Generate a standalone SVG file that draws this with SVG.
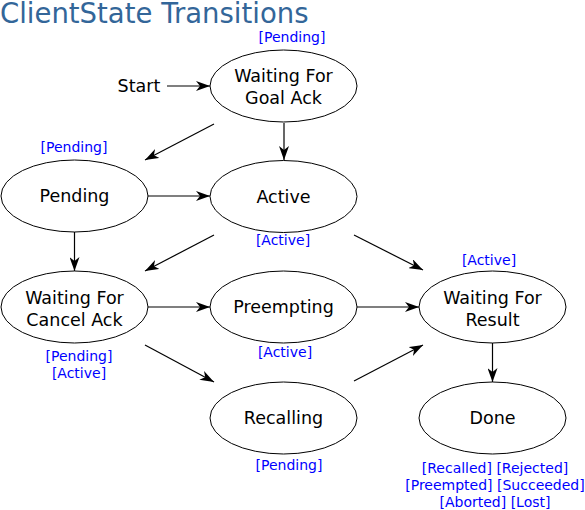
<svg xmlns="http://www.w3.org/2000/svg" width="585" height="510" viewBox="0 0 585 510">
<style>
.n ellipse{fill:#fff;stroke:#000;stroke-width:1}
.t{font-family:"DejaVu Sans",sans-serif;font-size:17.5px;fill:#000;text-anchor:middle}
.l{font-family:"DejaVu Sans",sans-serif;font-size:14px;fill:#0000ff;text-anchor:middle}
#edges line{stroke:#000;stroke-width:1.2;marker-end:url(#ah)}
</style>
<defs>
<marker id="ah" viewBox="0 0 14 10" refX="14" refY="5" markerWidth="14" markerHeight="10" markerUnits="userSpaceOnUse" orient="auto">
<path d="M0,0 L14,5 L0,10 L4,5 Z" fill="#000"/>
</marker>
</defs>
<rect width="585" height="510" fill="#fff"/>
<text x="0" y="23" font-family="DejaVu Sans,sans-serif" font-size="27.5" fill="#336699">ClientState Transitions</text>
<g id="edges">
<line x1="167" y1="86" x2="210" y2="86"/>
<line x1="214" y1="124" x2="145" y2="160"/>
<line x1="284" y1="123" x2="284" y2="160"/>
<line x1="148" y1="196" x2="210" y2="196"/>
<line x1="74.5" y1="232" x2="74.5" y2="271"/>
<line x1="214" y1="235" x2="145" y2="271"/>
<line x1="354" y1="235" x2="423" y2="270"/>
<line x1="148" y1="307" x2="210" y2="307"/>
<line x1="357" y1="307" x2="419" y2="307"/>
<line x1="145" y1="345" x2="214" y2="382"/>
<line x1="354" y1="381" x2="423" y2="345"/>
<line x1="492.5" y1="343" x2="492.5" y2="382"/>
</g>
<g id="start"><text class="t" x="139" y="92">Start</text></g>
<g id="goalack" class="n"><ellipse cx="283.5" cy="86" rx="73.5" ry="36"/><text class="t" x="283.5" y="82">Waiting For</text><text class="t" x="283.5" y="104">Goal Ack</text><text class="l" x="292" y="42">[Pending]</text></g>
<g id="pending" class="n"><ellipse cx="74.5" cy="196" rx="73.5" ry="36"/><text class="t" x="74.5" y="202">Pending</text><text class="l" x="74" y="152">[Pending]</text></g>
<g id="active" class="n"><ellipse cx="283.5" cy="196.5" rx="73.5" ry="36"/><text class="t" x="283.5" y="203">Active</text><text class="l" x="283" y="245">[Active]</text></g>
<g id="cancelack" class="n"><ellipse cx="74.5" cy="307" rx="73.5" ry="36"/><text class="t" x="74.5" y="304">Waiting For</text><text class="t" x="74.5" y="326">Cancel Ack</text><text class="l" x="79" y="361">[Pending]</text><text class="l" x="79" y="378">[Active]</text></g>
<g id="preempting" class="n"><ellipse cx="283.5" cy="307" rx="73.5" ry="36"/><text class="t" x="283.5" y="313">Preempting</text><text class="l" x="285" y="357">[Active]</text></g>
<g id="recalling" class="n"><ellipse cx="283.5" cy="418" rx="73.5" ry="36"/><text class="t" x="283.5" y="424">Recalling</text><text class="l" x="289" y="470">[Pending]</text></g>
<g id="result" class="n"><ellipse cx="492.5" cy="307" rx="73.5" ry="36"/><text class="t" x="492.5" y="304">Waiting For</text><text class="t" x="492.5" y="326">Result</text><text class="l" x="489" y="265">[Active]</text></g>
<g id="done" class="n"><ellipse cx="492.5" cy="418" rx="73.5" ry="36"/><text class="t" x="492.5" y="424">Done</text><text class="l" x="495" y="473">[Recalled] [Rejected]</text><text class="l" x="495" y="490">[Preempted] [Succeeded]</text><text class="l" x="495" y="507">[Aborted] [Lost]</text></g>
</svg>
